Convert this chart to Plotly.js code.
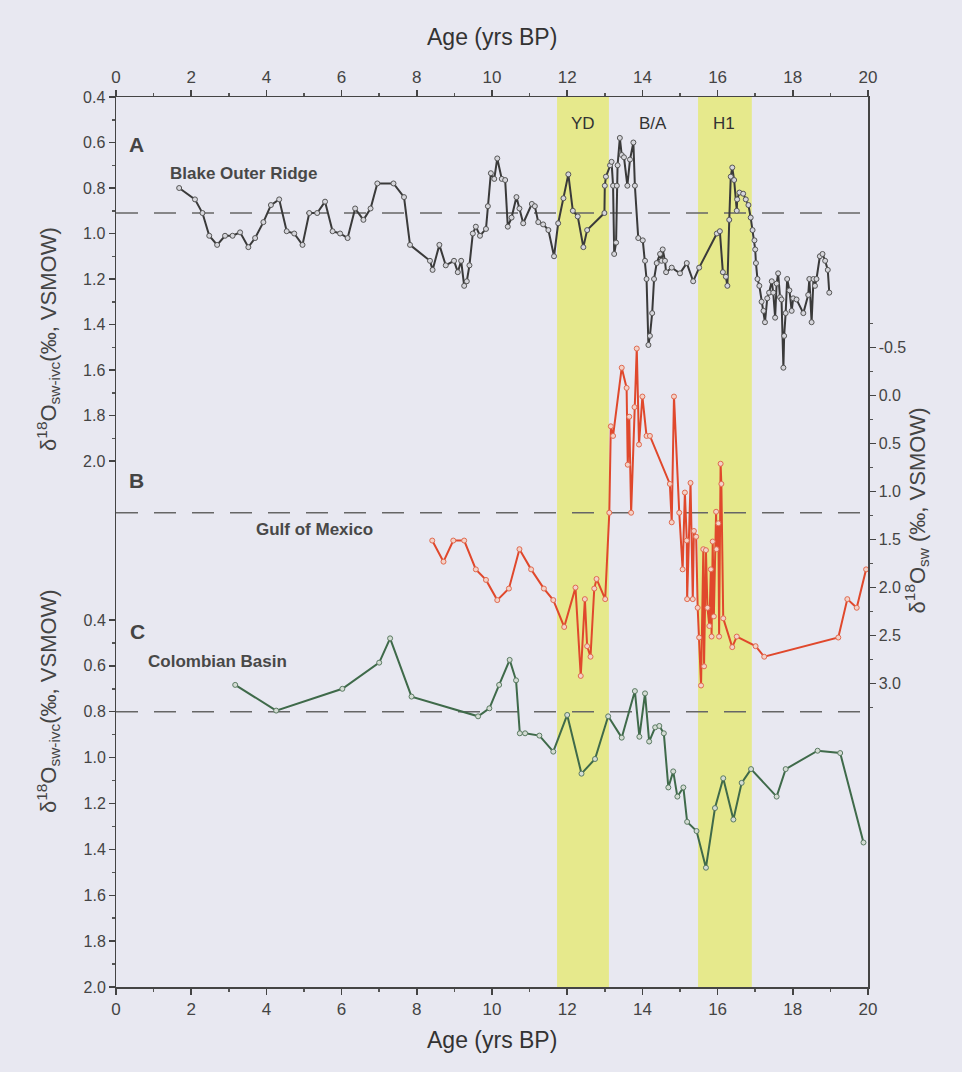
<!DOCTYPE html>
<html>
<head>
<meta charset="utf-8">
<script src="https://cdn.plot.ly/plotly-3.0.1.min.js"></script>
<style>html,body{margin:0;padding:0;background:#e8e8f1;}#chart{width:962px;height:1072px;}</style>
</head>
<body>
<div id="chart"></div>
<script>
// ---- Data (Age in kyr BP) ----
const blakeAge = [1.68,2.10,2.30,2.48,2.69,2.90,3.10,3.30,3.52,3.70,3.92,4.12,4.34,4.54,4.74,4.96,5.14,5.35,5.56,5.76,5.96,6.16,6.36,6.58,6.77,6.95,7.38,7.66,7.82,8.35,8.42,8.60,8.77,8.99,9.09,9.18,9.26,9.33,9.40,9.49,9.57,9.68,9.84,9.89,9.97,10.06,10.14,10.26,10.35,10.42,10.52,10.65,10.73,10.83,11.06,11.14,11.23,11.36,11.50,11.65,11.76,11.90,12.03,12.15,12.28,12.43,12.53,12.99,13.00,13.03,13.14,13.18,13.22,13.25,13.30,13.32,13.34,13.40,13.45,13.51,13.60,13.67,13.76,13.80,13.89,14.01,14.07,14.11,14.16,14.20,14.26,14.31,14.38,14.47,14.51,14.54,14.60,14.63,14.78,15.00,15.18,15.35,15.51,15.98,16.06,16.14,16.22,16.26,16.31,16.35,16.39,16.44,16.51,16.52,16.58,16.68,16.75,16.82,16.88,16.93,16.98,17.00,17.02,17.06,17.11,17.17,17.22,17.26,17.32,17.37,17.44,17.48,17.53,17.57,17.61,17.66,17.70,17.75,17.77,17.81,17.85,17.91,17.97,18.01,18.10,18.28,18.41,18.44,18.50,18.55,18.59,18.63,18.72,18.79,18.86,18.93,18.97];
const blakeVal = [0.80,0.85,0.91,1.01,1.05,1.01,1.01,0.995,1.06,1.02,0.95,0.875,0.85,0.99,1.00,1.05,0.91,0.91,0.86,0.99,1.00,1.02,0.89,0.94,0.89,0.78,0.78,0.84,1.05,1.12,1.16,1.05,1.14,1.12,1.17,1.12,1.23,1.21,1.14,1.00,0.97,1.01,0.98,0.88,0.735,0.76,0.67,0.76,0.765,0.97,0.93,0.84,0.89,0.955,0.87,0.88,0.95,0.96,0.985,1.10,0.955,0.845,0.74,0.90,0.925,1.06,0.985,0.91,0.79,0.75,0.70,0.685,0.79,1.09,1.04,0.79,0.70,0.58,0.655,0.665,0.79,0.675,0.60,0.79,1.02,1.03,1.12,1.20,1.49,1.45,1.35,1.20,1.13,1.09,1.12,1.07,1.12,1.17,1.15,1.175,1.13,1.21,1.15,1.00,0.99,1.17,1.19,1.23,0.94,0.75,0.71,0.765,0.90,0.85,0.82,0.825,0.85,0.875,0.93,0.985,1.03,1.07,1.13,1.20,1.23,1.30,1.34,1.39,1.285,1.26,1.21,1.26,1.37,1.22,1.175,1.28,1.29,1.59,1.45,1.35,1.20,1.25,1.34,1.285,1.29,1.35,1.27,1.20,1.39,1.20,1.23,1.20,1.10,1.09,1.12,1.16,1.26];

const gulfAge = [8.41,8.71,8.97,9.26,9.57,9.84,10.14,10.45,10.73,11.04,11.38,11.63,11.92,12.22,12.36,12.47,12.53,12.62,12.72,12.78,13.01,13.12,13.16,13.22,13.45,13.58,13.61,13.65,13.70,13.79,13.85,13.91,14.00,14.11,14.20,14.73,14.78,14.84,14.98,15.07,15.13,15.18,15.19,15.28,15.34,15.37,15.43,15.47,15.51,15.56,15.62,15.64,15.69,15.73,15.78,15.82,15.84,15.87,15.90,15.96,15.97,16.02,16.04,16.08,16.10,16.15,16.39,16.51,17.01,17.24,19.21,19.45,19.70,19.95];
const gulfVal = [1.51,1.73,1.51,1.51,1.81,1.92,2.13,2.01,1.60,1.81,2.01,2.13,2.41,2.00,2.92,2.12,2.61,2.72,2.01,1.91,2.12,1.22,0.32,0.42,-0.29,-0.08,0.72,0.22,1.22,0.12,-0.49,0.51,0.01,0.42,0.42,0.92,1.32,0.01,1.22,1.81,1.01,1.51,2.12,0.91,2.12,1.41,1.47,2.21,2.52,3.02,1.60,2.82,1.61,2.21,2.40,1.81,2.51,1.52,2.30,1.21,1.60,1.33,2.51,0.71,0.92,2.32,2.62,2.51,2.61,2.72,2.52,2.12,2.21,1.81];

const colAge = [3.17,4.26,6.02,7.00,7.29,7.86,9.63,9.93,10.19,10.47,10.64,10.74,10.88,11.26,11.63,12.00,12.38,12.74,13.09,13.45,13.80,13.92,14.07,14.18,14.34,14.45,14.57,14.69,14.82,14.93,15.09,15.19,15.44,15.69,15.93,16.15,16.42,16.64,16.89,17.57,17.81,18.66,19.26,19.88];
const colVal = [0.683,0.795,0.70,0.586,0.48,0.734,0.82,0.785,0.683,0.574,0.663,0.894,0.894,0.904,0.974,0.814,1.07,1.006,0.82,0.913,0.71,0.909,0.72,0.93,0.868,0.862,0.894,1.13,1.06,1.17,1.13,1.28,1.32,1.48,1.22,1.09,1.27,1.11,1.05,1.17,1.05,0.97,0.98,1.37];

const leftTicks = [0.4,0.6,0.8,1.0,1.2,1.4,1.6,1.8,2.0];
const leftMinor = [0.5,0.7,0.9,1.1,1.3,1.5,1.7,1.9];
const rightTicks = [-0.5,0.0,0.5,1.0,1.5,2.0,2.5,3.0];
const rightTickText = ['-0.5','0.0','0.5','1.0','1.5','2.0','2.5','3.0'];
const rightMinor = [-0.75,-0.25,0.25,0.75,1.25,1.75,2.25,2.75,3.25];
const xTicks = [0,2,4,6,8,10,12,14,16,18,20];
const xMinor = [1,3,5,7,9,11,13,15,17,19];

const bands = [{name:'YD', x0:11.73, x1:13.11}, {name:'H1', x0:15.48, x1:16.91}];
const periodLabels = [{t:'YD', x:12.42},{t:'B/A', x:14.28},{t:'H1', x:16.17}];
const refBlake = 0.91, refGulf = 1.22, refCol = 0.80;

const bg = '#e8e8f1';
const fontMain = 'Liberation Sans, Arial, sans-serif';

const traces = [
  {x: blakeAge, y: blakeVal, xaxis:'x', yaxis:'y', mode:'lines+markers', type:'scatter',
   line:{color:'#3a3a3a', width:2}, marker:{symbol:'circle', size:5, color:'#d6d6dc', line:{color:'#555', width:1}}, hoverinfo:'skip'},
  {x: gulfAge, y: gulfVal, xaxis:'x', yaxis:'y2', mode:'lines+markers', type:'scatter',
   line:{color:'#e0482c', width:2}, marker:{symbol:'circle', size:5, color:'#f3d2c8', line:{color:'#e06a50', width:1}}, hoverinfo:'skip'},
  {x: colAge, y: colVal, xaxis:'x', yaxis:'y3', mode:'lines+markers', type:'scatter',
   line:{color:'#3f6a4a', width:2}, marker:{symbol:'circle', size:5, color:'#d4dcd4', line:{color:'#5a7a62', width:1}}, hoverinfo:'skip'},
  {x:[0,20], y:[0.4,0.4], xaxis:'x2', yaxis:'y', mode:'lines', line:{width:0}, opacity:0, hoverinfo:'skip'}
];

const shapes = [];
bands.forEach(b => shapes.push({type:'rect', xref:'x', yref:'paper', x0:b.x0, x1:b.x1, y0:0, y1:1, fillcolor:'#e6e98c', line:{width:0}, layer:'below'}));
[[refBlake,'y'],[refGulf,'y2'],[refCol,'y3']].forEach(([v,ax]) => shapes.push({type:'line', xref:'paper', yref:ax, x0:0, x1:1, y0:v, y1:v, line:{color:'#666', width:1.5, dash:'22px,16px'}, layer:'below'}));

const tickFont = {family: fontMain, size: 16, color:'#444'};
const xTickFont = {family: fontMain, size: 17, color:'#444'};
const annotations = [
  {text:'Age (yrs BP)', xref:'paper', yref:'paper', x:0.5, y:1.084, showarrow:false, font:{family:fontMain, size:23, color:'#333'}},
  {text:'Age (yrs BP)', xref:'paper', yref:'paper', x:0.5, y:-0.076, showarrow:false, font:{family:fontMain, size:23, color:'#333'}},
  {text:'δ<sup>18</sup>O<sub>sw-ivc</sub>(‰, VSMOW)', xref:'paper', yref:'paper', x:-0.114, y:0.856, textangle:-90, showarrow:false, font:{family:fontMain, size:22, color:'#444'}},
  {text:'δ<sup>18</sup>O<sub>sw-ivc</sub>(‰, VSMOW)', xref:'paper', yref:'paper', x:-0.114, y:0.193, textangle:-90, showarrow:false, font:{family:fontMain, size:22, color:'#444'}},
  {text:'δ<sup>18</sup>O<sub>sw</sub> (‰, VSMOW)', xref:'paper', yref:'paper', x:1.089, y:0.536, textangle:-90, showarrow:false, font:{family:fontMain, size:22, color:'#444'}},
  {text:'<b>A</b>', xref:'paper', yref:'paper', x:0.014, y:0.962, xanchor:'left', showarrow:false, font:{family:fontMain, size:21, color:'#444'}},
  {text:'<b>Blake Outer Ridge</b>', xref:'paper', yref:'paper', x:0.069, y:0.927, xanchor:'left', showarrow:false, font:{family:fontMain, size:17, color:'#484848'}},
  {text:'<b>B</b>', xref:'paper', yref:'paper', x:0.014, y:0.569, xanchor:'left', showarrow:false, font:{family:fontMain, size:21, color:'#444'}},
  {text:'<b>Gulf of Mexico</b>', xref:'paper', yref:'paper', x:0.183, y:0.5135, xanchor:'left', showarrow:false, font:{family:fontMain, size:17, color:'#484848'}},
  {text:'<b>C</b>', xref:'paper', yref:'paper', x:0.016, y:0.40, xanchor:'left', showarrow:false, font:{family:fontMain, size:21, color:'#444'}},
  {text:'<b>Colombian Basin</b>', xref:'paper', yref:'paper', x:0.04, y:0.366, xanchor:'left', showarrow:false, font:{family:fontMain, size:17, color:'#484848'}}
];
periodLabels.forEach(p => annotations.push({text:p.t, xref:'x', yref:'paper', x:p.x, y:0.983, showarrow:false, font:{family:fontMain, size:17, color:'#333'}}));

const axCommon = {ticks:'outside', ticklen:6, tickwidth:1.5, tickcolor:'#444', showgrid:false, zeroline:false};
const layout = {
  width:962, height:1072,
  margin:{l:116, r:94, t:97, b:85},
  paper_bgcolor:bg, plot_bgcolor:bg,
  showlegend:false,
  font:{family:fontMain, color:'#444'},
  xaxis:Object.assign({range:[0,20], tickvals:xTicks, showline:true, linecolor:'#444', linewidth:1.5, tickfont:xTickFont,
         minor:{tickvals:xMinor, ticks:'outside', ticklen:3, tickcolor:'#555'}}, axCommon),
  xaxis2:Object.assign({range:[0,20], overlaying:'x', side:'top', tickvals:xTicks, showline:true, linecolor:'#444', linewidth:1.5, tickfont:xTickFont,
         minor:{tickvals:xMinor, ticks:'outside', ticklen:3, tickcolor:'#555'}}, axCommon),
  yaxis:Object.assign({range:[4.312, 0.4], tickvals:leftTicks, tickformat:'.1f', showline:true, linecolor:'#444', linewidth:1.5, tickfont:tickFont,
         minor:{tickvals:leftMinor, ticks:'outside', ticklen:3, tickcolor:'#555'}}, axCommon),
  yaxis3:Object.assign({range:[2.0, -1.88], overlaying:'y', side:'left', tickvals:leftTicks, tickformat:'.1f', showline:false, tickfont:tickFont,
         minor:{tickvals:leftMinor, ticks:'outside', ticklen:3, tickcolor:'#555'}}, axCommon),
  yaxis2:Object.assign({range:[6.16, -3.11], overlaying:'y', side:'right', tickvals:rightTicks, ticktext:rightTickText, showline:true, linecolor:'#444', linewidth:1.5, tickfont:tickFont,
         minor:{tickvals:rightMinor, ticks:'outside', ticklen:3, tickcolor:'#555'}}, axCommon),
  shapes:shapes,
  annotations:annotations
};

Plotly.newPlot('chart', traces, layout, {staticPlot:true, displayModeBar:false});
</script>
</body>
</html>
